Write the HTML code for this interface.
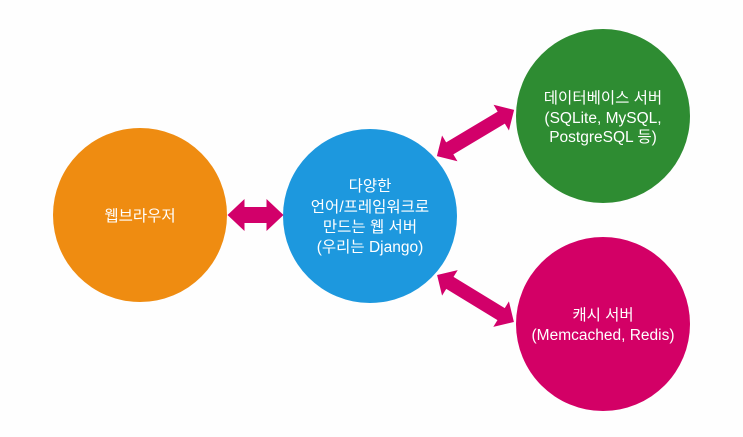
<!DOCTYPE html>
<html><head><meta charset="utf-8"><style>
html,body{margin:0;padding:0;background:#fefefe;width:743px;height:437px;overflow:hidden}
text{font-family:"Liberation Sans","Noto Sans CJK KR",sans-serif;fill:#fff;font-size:15.5px;text-anchor:middle}
</style></head><body>
<svg width="743" height="437" viewBox="0 0 743 437" xmlns="http://www.w3.org/2000/svg">
<rect width="743" height="437" fill="#fefefe"/>
<circle cx="140" cy="215" r="87" fill="#ef8c11"/>
<circle cx="370" cy="216" r="87" fill="#1d98de"/>
<circle cx="603" cy="116" r="87" fill="#2e8c32"/>
<circle cx="603" cy="324" r="87" fill="#d30066"/>
<g fill="#d2006a">
<polygon transform="translate(255.5,215)" points="-28,0 -11,-16 -11,-8 11,-8 11,-16 28,0 11,16 11,8 -11,8 -11,16"/>
<polygon transform="translate(475.5,133) rotate(-30.9)" points="-45,0 -30,-15 -30,-7 30,-7 30,-15 45,0 30,15 30,7 -30,7 -30,15"/>
<polygon transform="translate(475.5,298.5) rotate(31.4)" points="-45,0 -30,-15 -30,-7 30,-7 30,-15 45,0 30,15 30,7 -30,7 -30,15"/>
</g>
<text x="140" y="221">웹브라우저</text>
<text x="370" y="191">다양한</text>
<text x="370" y="212">언어/프레임워크로</text>
<text x="370" y="232">만드는 웹 서버</text>
<text x="370" y="252">(우리는 Django)</text>
<text x="603" y="103">데이터베이스 서버</text>
<text x="603" y="123">(SQLite, MySQL,</text>
<text x="603" y="142">PostgreSQL 등)</text>
<text x="603" y="320">캐시 서버</text>
<text x="603" y="340">(Memcached, Redis)</text>
</svg>
</body></html>
